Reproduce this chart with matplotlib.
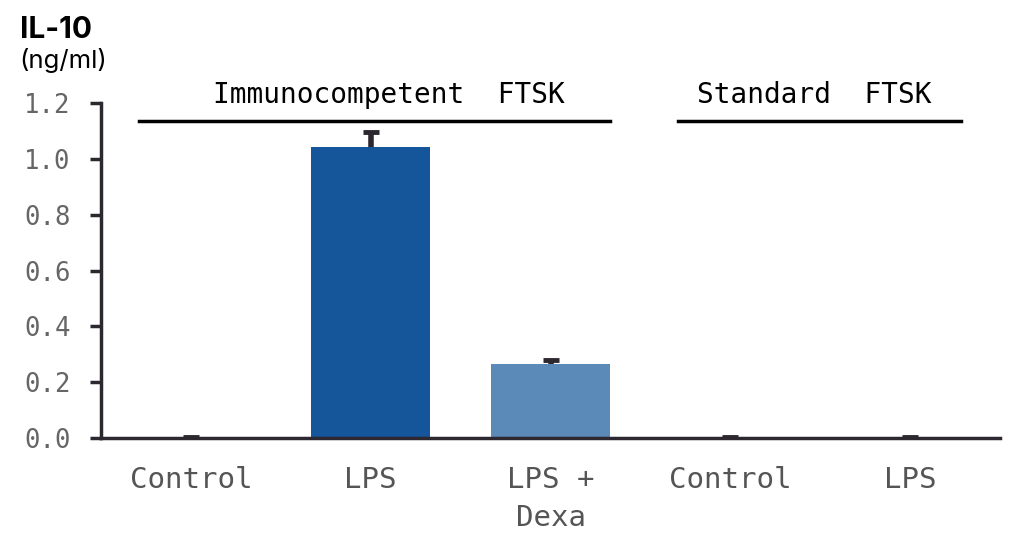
import numpy as np
import matplotlib.pyplot as plt

conditions = ['Control', 'LPS', 'LPS +\nDexa', 'Control', 'LPS']
il10 = [0.0, 1.043, 0.265, 0.0, 0.0]
il10_err = [0.003, 0.054, 0.013, 0.003, 0.003]
bar_colors = ['#15569a', '#15569a', '#5b89b8', '#15569a', '#15569a']
groups = ['Immunocompetent  FTSK', 'Standard  FTSK']
group_spans = [(-0.29, 2.33), (2.71, 4.28)]
group_label_x = [1.1, 3.467]

axis_col = '#2d2730'
mono = 'DejaVu Sans Mono'

fig = plt.figure(figsize=(10.3, 5.52), dpi=100)
ax = fig.add_axes([0.098, 0.2065, 0.873, 0.6065])

x = np.arange(len(conditions))
ax.bar(x, il10, width=0.66, color=bar_colors, zorder=2)
eb = ax.errorbar(x, il10, yerr=[np.zeros(len(x)), il10_err], fmt='none',
                 ecolor=axis_col, elinewidth=4, capsize=6, capthick=3.5,
                 zorder=3)
# only the upper cap is shown
eb[1][0].set_visible(False)

ax.set_xlim(-0.5, 4.5)
ax.set_ylim(0, 1.2)
ticks = np.arange(0, 1.21, 0.2)
ax.set_yticks(ticks)
ax.set_yticklabels([f'{v:.1f}' for v in ticks],
                   fontfamily=mono, fontsize=18.5, color='#666666')
ax.set_xticks(x)
ax.set_xticklabels(conditions, fontfamily=mono, fontsize=21, color='#555555',
                   linespacing=1.45)
ax.tick_params(axis='x', length=0, pad=20)
ax.tick_params(axis='y', length=8, width=2.5, color=axis_col, pad=14)

for side in ['top', 'right']:
    ax.spines[side].set_visible(False)
for side in ['left', 'bottom']:
    ax.spines[side].set_linewidth(2.5)
    ax.spines[side].set_color(axis_col)

for name, (x0, x1), xt in zip(groups, group_spans, group_label_x):
    ax.plot([x0, x1], [1.136, 1.136], color='black', lw=2.5, clip_on=False)
    ax.text(xt, 1.229, name, ha='center', va='center',
            fontfamily=mono, fontsize=20, color='black', clip_on=False)

fig.text(0.019, 0.946, 'IL-10', fontsize=21.5, fontweight='bold',
         fontfamily='Inter', va='center', ha='left')
fig.text(0.019, 0.891, '(ng/ml)', fontsize=18.5, fontfamily='Inter',
         va='center', ha='left')

fig.savefig('out.png', dpi=100)
